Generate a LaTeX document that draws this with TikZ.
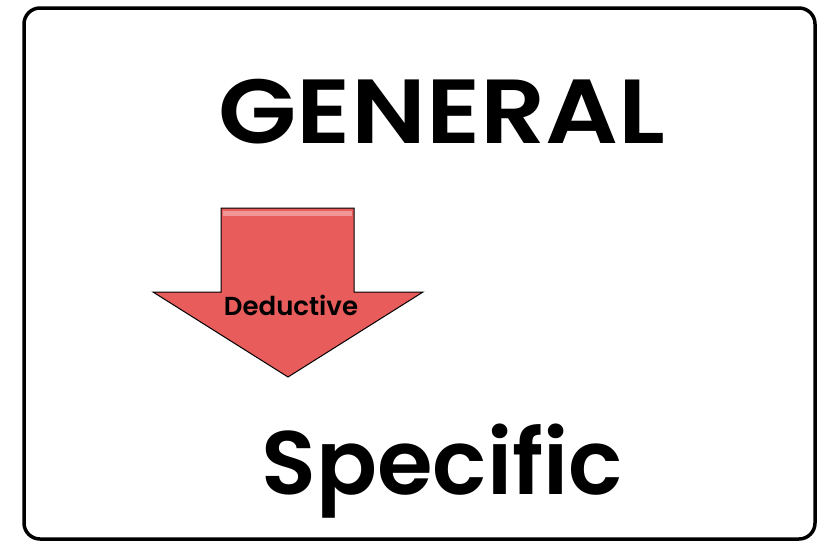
\documentclass[tikz,border=0pt]{standalone}
\usepackage{fontspec}
\usepackage{xcolor}
\usepackage{tikz}
\usetikzlibrary{positioning, calc}
\newfontfamily\popfont{Poppins SemiBold}
\newfontfamily\popwide{Poppins SemiBold}[FakeStretch=1.12]
\definecolor{arrowred}{RGB}{232,92,92}
\definecolor{arrowhi}{RGB}{240,150,150}

\begin{document}
\begin{tikzpicture}[
  x=1pt, y=-1pt,
  frame/.style={draw=black, line width=3.5pt, rounded corners=16pt},
  bigword/.style={font=\popfont\fontsize{90}{90}\selectfont, inner sep=0pt, anchor=base},
  tag/.style={font=\popfont\fontsize{26}{26}\selectfont, inner sep=0pt, anchor=base},
  deduct/.style={draw=black, line width=1pt, fill=arrowred, line join=miter}]
  \useasboundingbox (0,0) rectangle (818,541);
  \draw[frame] (24,8) rectangle (815,539);
  % text
  \node[bigword, font=\popwide\fontsize{91}{91}\selectfont] (gen) at (442,143) {GENERAL};
  \node[bigword] (spec) at (442,494) {Specific};
  % arrow
  \draw[deduct] (221,208) -- (354,208) -- (354,292) -- (423,292) -- (288,377)
    -- (153,292) -- (221,292) -- cycle;
  \fill[arrowhi] (223,211) rectangle (352,216);
  \node[tag] (ded) at (291,315) {Deductive};
\end{tikzpicture}
\end{document}
